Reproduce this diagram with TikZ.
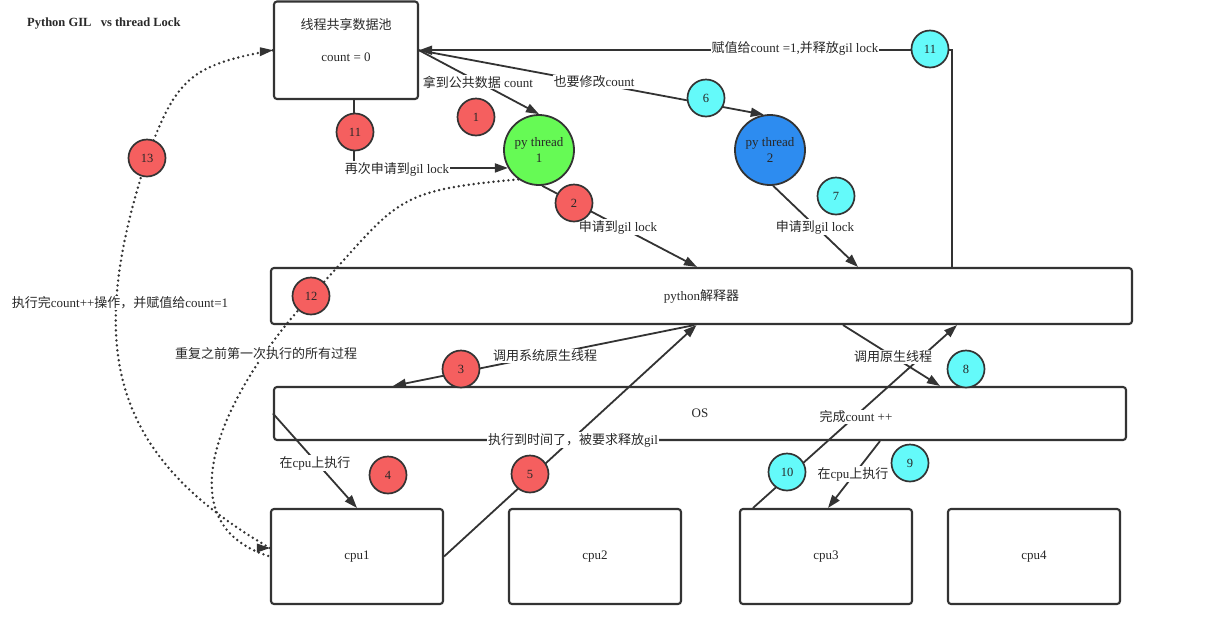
\documentclass[tikz,border=0pt]{standalone}
\usepackage{fontspec}
\setmainfont{Liberation Serif}
\newfontfamily\cjk{Noto Sans CJK SC}
\usetikzlibrary{arrows.meta}
\definecolor{ln}{RGB}{51,51,51}
\definecolor{txt}{RGB}{40,40,40}
\definecolor{redc}{RGB}{245,95,95}
\definecolor{cyanc}{RGB}{100,250,250}
\definecolor{greenc}{RGB}{102,250,85}
\definecolor{bluec}{RGB}{45,140,240}
\begin{document}
\begin{tikzpicture}[x=1pt,y=1pt,
  font=\fontsize{13}{15.5}\selectfont,
  every node/.append style={text=txt},
  box/.style={draw=ln, line width=2.1pt, rounded corners=3pt, fill=white, inner sep=0pt},
  num/.style={circle, draw=ln, line width=1.7pt, minimum size=37pt, inner sep=0pt, font=\fontsize{12.5}{14}\selectfont},
  rednum/.style={num, fill=redc},
  cyannum/.style={num, fill=cyanc},
  thr/.style={circle, draw=ln, line width=1.8pt, minimum size=70pt, inner sep=0pt, align=center},
  lbl/.style={fill=white, inner sep=1pt},
  conn/.style={draw=ln, line width=1.8pt},
  arr/.style={conn, -{Triangle[length=13pt,width=9pt]}},
  dots/.style={draw=ln, line width=2.7pt, line cap=round, dash pattern=on 0pt off 5pt},
]
\useasboundingbox (0,0) rectangle (1221,-622);

% title
\node[anchor=west, inner sep=0pt, font=\fontsize{12.5}{15}\selectfont\bfseries] (title) at (27,-24) {Python GIL\ \ \ vs thread Lock};

% boxes
\node[box, minimum width=144pt, minimum height=97.5pt] (pool) at (346,-50.25) {};
\node (pooltitle) at (346,-25) {\cjk 线程共享数据池};
\node (poolcount) at (346,-57) {count = 0};
\node[box, minimum width=861pt, minimum height=56pt] (interp) at (701.5,-296) {python{\cjk 解释器}};
\node[box, minimum width=852pt, minimum height=53pt] (os) at (700,-413.5) {OS};
\node[box, minimum width=172pt, minimum height=95pt] (cpu1) at (357,-556.5) {cpu1};
\node[box, minimum width=172pt, minimum height=95pt] (cpu2) at (595,-556.5) {cpu2};
\node[box, minimum width=172pt, minimum height=95pt] (cpu3) at (826,-556.5) {cpu3};
\node[box, minimum width=172pt, minimum height=95pt] (cpu4) at (1034,-556.5) {cpu4};

% threads
\node[thr, fill=greenc] (t1) at (539,-150) {py thread\\1};
\node[thr, fill=bluec] (t2) at (770,-150) {py thread\\2};

% connectors
\draw[arr] (pool.east) -- (t1.north);
\draw[arr] (pool.east) -- (t2.100);
\draw[arr] ([xshift=8pt]pool.south) |- (t1.210);
\draw[arr] (t1.-85) -- ([xshift=-4.5pt]interp.north);
\draw[arr] (t2.-85) -- ([xshift=156.5pt]interp.north);
\draw[arr] ([xshift=250.5pt]interp.north) |- (pool.east);
\draw[arr] ([xshift=-7pt]interp.south) -- ([xshift=-307pt]os.north);
\draw[arr] (cpu1.east) -- ([xshift=-5pt]interp.south);
\draw[arr] (os.west) -- (cpu1.north);
\draw[arr] ([xshift=141.5pt]interp.south) -- ([xshift=240pt]os.north);
\draw[arr] ([xshift=180pt]os.south) -- ([xshift=2pt]cpu3.north);
\draw[arr] ([xshift=-73pt]cpu3.north) -- ([xshift=255.5pt]interp.south);

% dotted curves
\draw[dots] (t1.235) to[out=185, in=47, looseness=1.4] (311,-296) coordinate (p12)
  to[out=227, in=163, looseness=1.15] (cpu1.west);
\draw[dots] ([yshift=8.5pt]cpu1.west) to[out=150, in=-108, looseness=1.2] (147,-158) coordinate (p13)
  to[out=70, in=190, looseness=1.3] (pool.west);
\fill[ln] ([yshift=8.5pt]cpu1.west) -- ++(-13,4.5) -- ++(0,-9) -- cycle;
\fill[ln] (pool.west) -- ++(-13,3) -- ++(0,-9) -- cycle;

% labels
\node[lbl] (l1) at (478,-82) {{\cjk 拿到公共数据} count};
\node[lbl] (l2) at (594,-82) {{\cjk 也要修改}count};
\node[lbl] (l3) at (397,-169) {{\cjk 再次申请到}gil lock};
\node[lbl] (l4) at (618,-227) {{\cjk 申请到}gil lock};
\node[lbl] (l5) at (815,-227) {{\cjk 申请到}gil lock};
\node[lbl] (l6) at (795,-48) {{\cjk 赋值给}count =1,{\cjk 并释放}gil lock};
\node[lbl] (l7) at (545,-356) {\cjk 调用系统原生线程};
\node[lbl] (l8) at (893,-357) {\cjk 调用原生线程};
\node[lbl] (l9) at (315,-463) {{\cjk 在}cpu{\cjk 上执行}};
\node[lbl] (l10) at (853,-474) {{\cjk 在}cpu{\cjk 上执行}};
\node[lbl] (l11) at (573,-440) {{\cjk 执行到时间了，被要求释放}gil};
\node[lbl] (l12) at (856,-417) {{\cjk 完成}count ++};
\node[lbl] (l13) at (266,-354) {\cjk 重复之前第一次执行的所有过程};
\node[lbl] (l14) at (120,-303) {{\cjk 执行完}count++{\cjk 操作，并赋值给}count=1};

% numbered circles
\node[rednum] (n1) at (476,-117) {1};
\node[rednum] (n2) at (574,-203) {2};
\node[rednum] (n3) at (461,-369) {3};
\node[rednum] (n4) at (388,-475) {4};
\node[rednum] (n5) at (530,-474) {5};
\node[cyannum] (n6) at (706,-98) {6};
\node[cyannum] (n7) at (836,-196) {7};
\node[cyannum] (n8) at (966,-369) {8};
\node[cyannum] (n9) at (910,-463) {9};
\node[cyannum] (n10) at (787,-472) {10};
\node[cyannum] (n11c) at (930,-49) {11};
\node[rednum] (n11r) at (355,-132) {11};
\node[rednum] (n12) at (p12) {12};
\node[rednum] (n13) at (p13) {13};
\end{tikzpicture}
\end{document}
